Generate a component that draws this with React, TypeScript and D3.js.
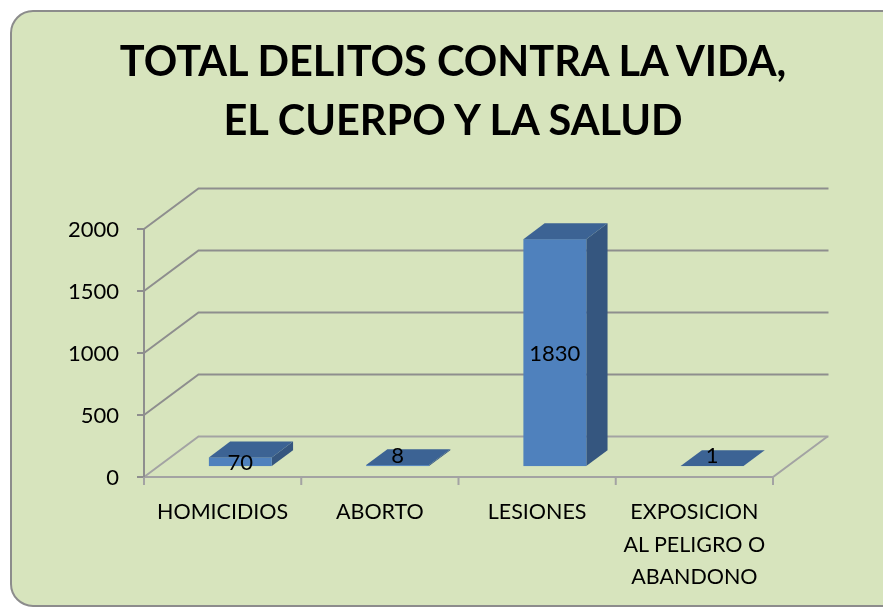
import React from "react";
import * as d3 from "d3";

const title = ["TOTAL DELITOS CONTRA LA VIDA,", "EL CUERPO Y LA SALUD"];
const categories = ["HOMICIDIOS", "ABORTO", "LESIONES", "EXPOSICION AL PELIGRO O ABANDONO"];
const categoryLines = [["HOMICIDIOS"], ["ABORTO"], ["LESIONES"], ["EXPOSICION", "AL PELIGRO O", "ABANDONO"]];
const values = [70, 8, 1830, 1];
const yTicks = [0, 500, 1000, 1500, 2000];

const W = 883;
const H = 608;
const FONT = "Lato, 'Liberation Sans', sans-serif";

export default function App() {
  const x0 = 144;
  const x1 = 773;
  const DX = 54.5;
  const DY = -40.5;
  const y = d3.scaleLinear().domain([0, 2000]).range([477, 229]);
  const x = d3.scaleBand<string>().domain(categories).range([x0, x1]).padding(0);
  const bw = x.bandwidth();
  const barW = 0.4 * bw;
  const f0 = 0.27;
  const f1 = 0.39;
  const bdx = f1 * DX;
  const bdy = f1 * DY;
  const baseY = y(0) + f0 * DY;
  const shiftX = f0 * DX;

  const grid = "#8E8E8E";
  const floor = "#A3A3A3";

  return (
    <div style={{ position: "fixed", left: 0, top: 0 }}>
      <svg width={W} height={H} style={{ display: "block" }}>
        <rect x={11} y={11} width={920} height={595} rx={22} ry={22} fill="#D7E4BD" stroke="#8C8C8C" strokeWidth={2} />
        {title.map((t, i) => (
          <text key={i} x={453} y={76 + i * 58.5} textAnchor="middle" fontFamily={FONT} fontWeight={700} fontSize={41.5} fill="#000">
            {t}
          </text>
        ))}
        {/* back wall gridlines */}
        {yTicks.map((v) => (
          <path
            key={"g" + v}
            d={`M${x0},${y(v)} L${x0 + DX},${y(v) + DY} L${x1 + DX + 1},${y(v) + DY}`}
            fill="none"
            stroke={v === 0 ? floor : grid}
            strokeWidth={2}
          />
        ))}
        {/* floor front and right edges */}
        <path d={`M${x0},${y(0)} L${x1},${y(0)} L${x1 + DX},${y(0) + DY}`} fill="none" stroke={floor} strokeWidth={2} />
        {/* y axis */}
        <line x1={x0} x2={x0} y1={y(2000)} y2={y(0)} stroke={grid} strokeWidth={2} />
        {yTicks.map((v) => (
          <g key={"t" + v}>
            <line x1={x0 - 7} x2={x0} y1={y(v)} y2={y(v)} stroke={grid} strokeWidth={2} />
            <text x={119} y={y(v)} dy="0.36em" textAnchor="end" fontFamily={FONT} fontSize={22} fill="#000">
              {v}
            </text>
          </g>
        ))}
        {/* x ticks */}
        {[...categories.map((c) => x(c) as number), x1].map((xx, i) => (
          <line key={"xt" + i} x1={xx} x2={xx} y1={y(0)} y2={y(0) + 8} stroke={floor} strokeWidth={2} />
        ))}
        {/* bars */}
        {categories.map((c, i) => {
          const xl = (x(c) as number) + (bw - barW) / 2 + shiftX + 3;
          const xr = xl + barW;
          const yb = baseY;
          const yt = baseY - (y(0) - y(values[i]));
          const top = `M${xl},${yt} L${xl + bdx},${yt + bdy} L${xr + bdx},${yt + bdy} L${xr},${yt} Z`;
          const side = `M${xr},${yt} L${xr + bdx},${yt + bdy} L${xr + bdx},${yb + bdy} L${xr},${yb} Z`;
          const h = yb - yt;
          const ly = h < 5 ? yb - 11 : (yt + yb) / 2;
          return (
            <g key={"b" + i}>
              <path d={side} fill="#35567F" />
              <rect x={xl} y={yt} width={barW} height={h} fill="#4F81BD" />
              <path d={top} fill="#3C6394" />
              <text x={xl + barW / 2} y={ly} dy="0.36em" textAnchor="middle" fontFamily={FONT} fontSize={22} fill="#000">
                {values[i]}
              </text>
            </g>
          );
        })}
        {/* category labels */}
        {categories.map((c, i) => (
          <text key={"c" + i} textAnchor="middle" fontFamily={FONT} fontSize={21.5} fill="#000">
            {categoryLines[i].map((ln, j) => (
              <tspan key={j} x={(x(c) as number) + bw / 2} y={519 + j * 32.5}>
                {ln}
              </tspan>
            ))}
          </text>
        ))}
      </svg>
    </div>
  );
}
